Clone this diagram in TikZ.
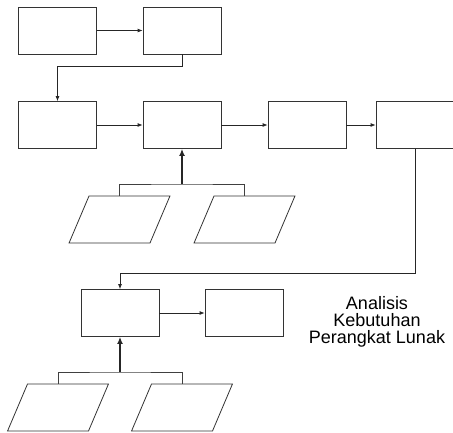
\documentclass[tikz,border=0pt]{standalone}
\usepackage{fontspec}
\setmainfont{Liberation Sans}
\usetikzlibrary{shapes.geometric, arrows.meta, positioning}

% empty body of an input shape: 61pt wide, 47pt high
\newcommand{\inbody}{\rule{61pt}{0pt}\rule{0pt}{47pt}}

\begin{document}
\begin{tikzpicture}[
    x=1pt, y=-1pt,
    box/.style={rectangle, draw=black!80, line width=0.8pt, minimum width=78pt, minimum height=47pt, inner sep=0pt},
    input/.style={trapezium, trapezium left angle=67, trapezium right angle=113, draw=black!80, line width=0.8pt, inner sep=0pt},
    arrow/.style={-{Latex[length=5pt, width=4pt]}, line width=0.8pt, draw=black!85},
    bigarrow/.style={-{Latex[length=7pt, width=6pt]}, line width=1.6pt, draw=black!85},
    link/.style={line width=0.8pt, draw=black!75}
]

\useasboundingbox (0,0) rectangle (453,432);

% Top row
\node[box] (a) at (57.5, 30.5) {};
\node[box] (b) at (182, 30.5) {};
\draw[arrow] (a) -- (b);

% Main row
\node[box] (c) at (57.5, 125) {};
\node[box] (d) at (182, 125) {};
\node[box] (e) at (307, 125) {};
\node[box] (f) at (415, 125) {};

\draw[arrow] (b.south) -- ++(0,12) -| (c.north);
\draw[arrow] (c) -- (d);
\draw[arrow] (d) -- (e);
\draw[arrow] (e) -- (f);

% Inputs into d
\node[input] (p1) at (119.5, 219.5) {\inbody};
\node[input] (p2) at (244.5, 219.5) {\inbody};
\coordinate (j1) at (d.south |- 0,184);
\draw[link] (p1.north) |- (j1) -| (p2.north);
\draw[bigarrow] (j1) -- (d.south);

% Lower row
\node[box] (g) at (120, 313) {};
\node[box] (h) at (244, 313) {};
\draw[arrow] (f.south) -- ++(0,124) -| (g.north);
\draw[arrow] (g) -- (h);

% Inputs into g
\node[input] (p3) at (58, 407.5) {\inbody};
\node[input] (p4) at (182, 407.5) {\inbody};
\coordinate (j2) at (g.south |- 0,372);
\draw[link] (p3.north) |- (j2) -| (p4.north);
\draw[bigarrow] (j2) -- (g.south);

% Caption
\node[align=center, font=\fontsize{18}{17}\selectfont] (caption) at (377, 322) {Analisis\\Kebutuhan\\Perangkat Lunak};

\end{tikzpicture}
\end{document}
